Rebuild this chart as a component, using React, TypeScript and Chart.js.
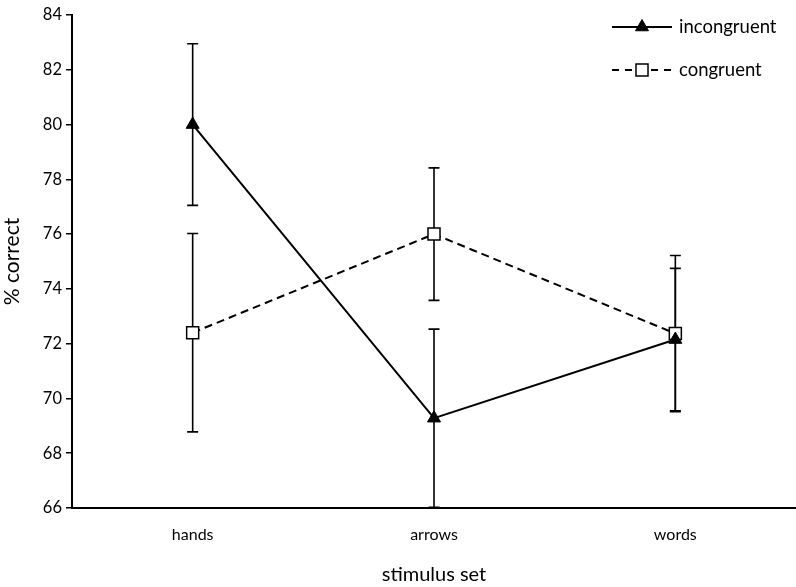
import React, { useEffect, useRef } from "react";
import { Chart, registerables } from "chart.js";

Chart.register(...registerables);

const categories = ["hands", "arrows", "words"];
const incongruent = [80.0, 69.28, 72.15];
const incongruentErr = [2.95, 3.25, 2.6];
const congruent = [72.4, 76.0, 72.37];
const congruentErr = [3.62, 2.42, 2.85];
const yTicks = [66, 68, 70, 72, 74, 76, 78, 80, 82, 84];

const FONT = "Lato, 'Open Sans', sans-serif";

const errorBarPlugin = {
  id: "errorBars",
  beforeDatasetsDraw(chart: any) {
    const { ctx } = chart;
    const yScale = chart.scales.y;
    chart.data.datasets.forEach((ds: any, di: number) => {
      const meta = chart.getDatasetMeta(di);
      const errs: number[] = ds.errors || [];
      ctx.save();
      ctx.strokeStyle = "#000";
      ctx.lineWidth = 1.6;
      ctx.setLineDash([]);
      meta.data.forEach((pt: any, i: number) => {
        const v = ds.data[i];
        const e = errs[i];
        if (e == null) return;
        const x = pt.x;
        const yTop = yScale.getPixelForValue(v + e);
        const yBot = yScale.getPixelForValue(v - e);
        ctx.beginPath();
        ctx.moveTo(x, yTop);
        ctx.lineTo(x, yBot);
        ctx.moveTo(x - 5.5, yTop);
        ctx.lineTo(x + 5.5, yTop);
        ctx.moveTo(x - 5.5, yBot);
        ctx.lineTo(x + 5.5, yBot);
        ctx.stroke();
      });
      ctx.restore();
    });
  },
};

function marker(ctx: CanvasRenderingContext2D, style: string, r: number, x: number, y: number) {
  ctx.beginPath();
  if (style === "triangle") {
    for (let k = 0; k < 3; k++) {
      const a = (k * 2 * Math.PI) / 3;
      const px = x + Math.sin(a) * r;
      const py = y - Math.cos(a) * r;
      if (k === 0) ctx.moveTo(px, py);
      else ctx.lineTo(px, py);
    }
    ctx.closePath();
  } else {
    const s = r * Math.SQRT1_2;
    ctx.rect(x - s, y - s, 2 * s, 2 * s);
  }
}

const legendPlugin = {
  id: "customLegend",
  afterDraw(chart: any) {
    const { ctx, chartArea } = chart;
    const right = chartArea.right;
    const rows = [27, 70];
    chart.data.datasets.forEach((ds: any, di: number) => {
      const y = rows[di];
      const x0 = right - 184;
      const x1 = right - 124;
      const xm = (x0 + x1) / 2;
      ctx.save();
      ctx.strokeStyle = "#000";
      ctx.lineWidth = 2;
      ctx.setLineDash(ds.borderDash ? [7, 6] : []);
      ctx.beginPath();
      ctx.moveTo(x0, y);
      ctx.lineTo(x1, y);
      ctx.stroke();
      ctx.setLineDash([]);
      marker(ctx, ds.pointStyle, ds.pointRadius, xm, y);
      ctx.fillStyle = ds.pointBackgroundColor;
      ctx.strokeStyle = "#000";
      ctx.lineWidth = ds.pointBorderWidth;
      ctx.fill();
      ctx.stroke();
      ctx.fillStyle = "#000";
      ctx.font = `18.5px ${FONT}`;
      ctx.textBaseline = "middle";
      ctx.textAlign = "left";
      ctx.fillText(ds.label, x1 + 7, y);
      ctx.restore();
    });
  },
};

export default function App() {
  const ref = useRef<HTMLCanvasElement>(null);
  useEffect(() => {
    if (!ref.current) return;
    const chart = new Chart(ref.current, {
      type: "line",
      data: {
        labels: categories,
        datasets: [
          {
            label: "incongruent",
            data: incongruent,
            errors: incongruentErr,
            borderColor: "#000",
            borderWidth: 2,
            pointStyle: "triangle",
            pointRadius: 7.5,
            pointBorderWidth: 1,
            pointBackgroundColor: "#000",
            pointBorderColor: "#000",
            tension: 0,
          } as any,
          {
            label: "congruent",
            data: congruent,
            errors: congruentErr,
            borderColor: "#000",
            borderWidth: 2,
            borderDash: [8, 5],
            pointStyle: "rect",
            pointRadius: 8.5,
            pointBorderWidth: 1.5,
            pointBackgroundColor: "#fff",
            pointBorderColor: "#000",
            tension: 0,
          } as any,
        ],
      },
      options: {
        animation: false,
        responsive: false,
        maintainAspectRatio: false,
        layout: { autoPadding: false, padding: { top: 15, right: 0, left: 0, bottom: 0 } },
        plugins: {
          legend: { display: false },
          tooltip: { enabled: false },
        },
        scales: {
          x: {
            type: "category",
            offset: true,
            grid: { display: false, drawTicks: false },
            border: { display: true, color: "#000", width: 2 },
            ticks: {
              color: "#000",
              font: { family: FONT, size: 16 },
              padding: 17,
            },
            title: {
              display: true,
              text: "stimulus set",
              color: "#000",
              font: { family: FONT, size: 20 },
              padding: { top: 6, bottom: 0 },
            },
            afterFit(scale: any) {
              scale.height = 79;
              scale.paddingLeft = 0;
              scale.paddingRight = 0;
            },
          },
          y: {
            min: 66,
            max: 84,
            afterBuildTicks(scale: any) {
              scale.ticks = yTicks.map((v) => ({ value: v }));
            },
            grid: {
              display: true,
              drawOnChartArea: false,
              drawTicks: true,
              tickLength: 6,
              color: "#000",
              lineWidth: 1.5,
            },
            border: { display: true, color: "#000", width: 2 },
            ticks: {
              color: "#000",
              font: { family: FONT, size: 16.5 },
              padding: 4,
            },
            title: {
              display: true,
              text: "% correct",
              color: "#000",
              font: { family: FONT, size: 21 },
              padding: { top: 0, bottom: 4 },
            },
            afterFit(scale: any) {
              scale.width = 72;
            },
          },
        },
      },
      plugins: [errorBarPlugin, legendPlugin],
    });
    return () => chart.destroy();
  }, []);
  return (
    <div style={{ position: "fixed", left: 0, top: 0, width: 796, height: 587, background: "#fff" }}>
      <canvas ref={ref} width={796} height={587} style={{ display: "block" }} />
    </div>
  );
}
